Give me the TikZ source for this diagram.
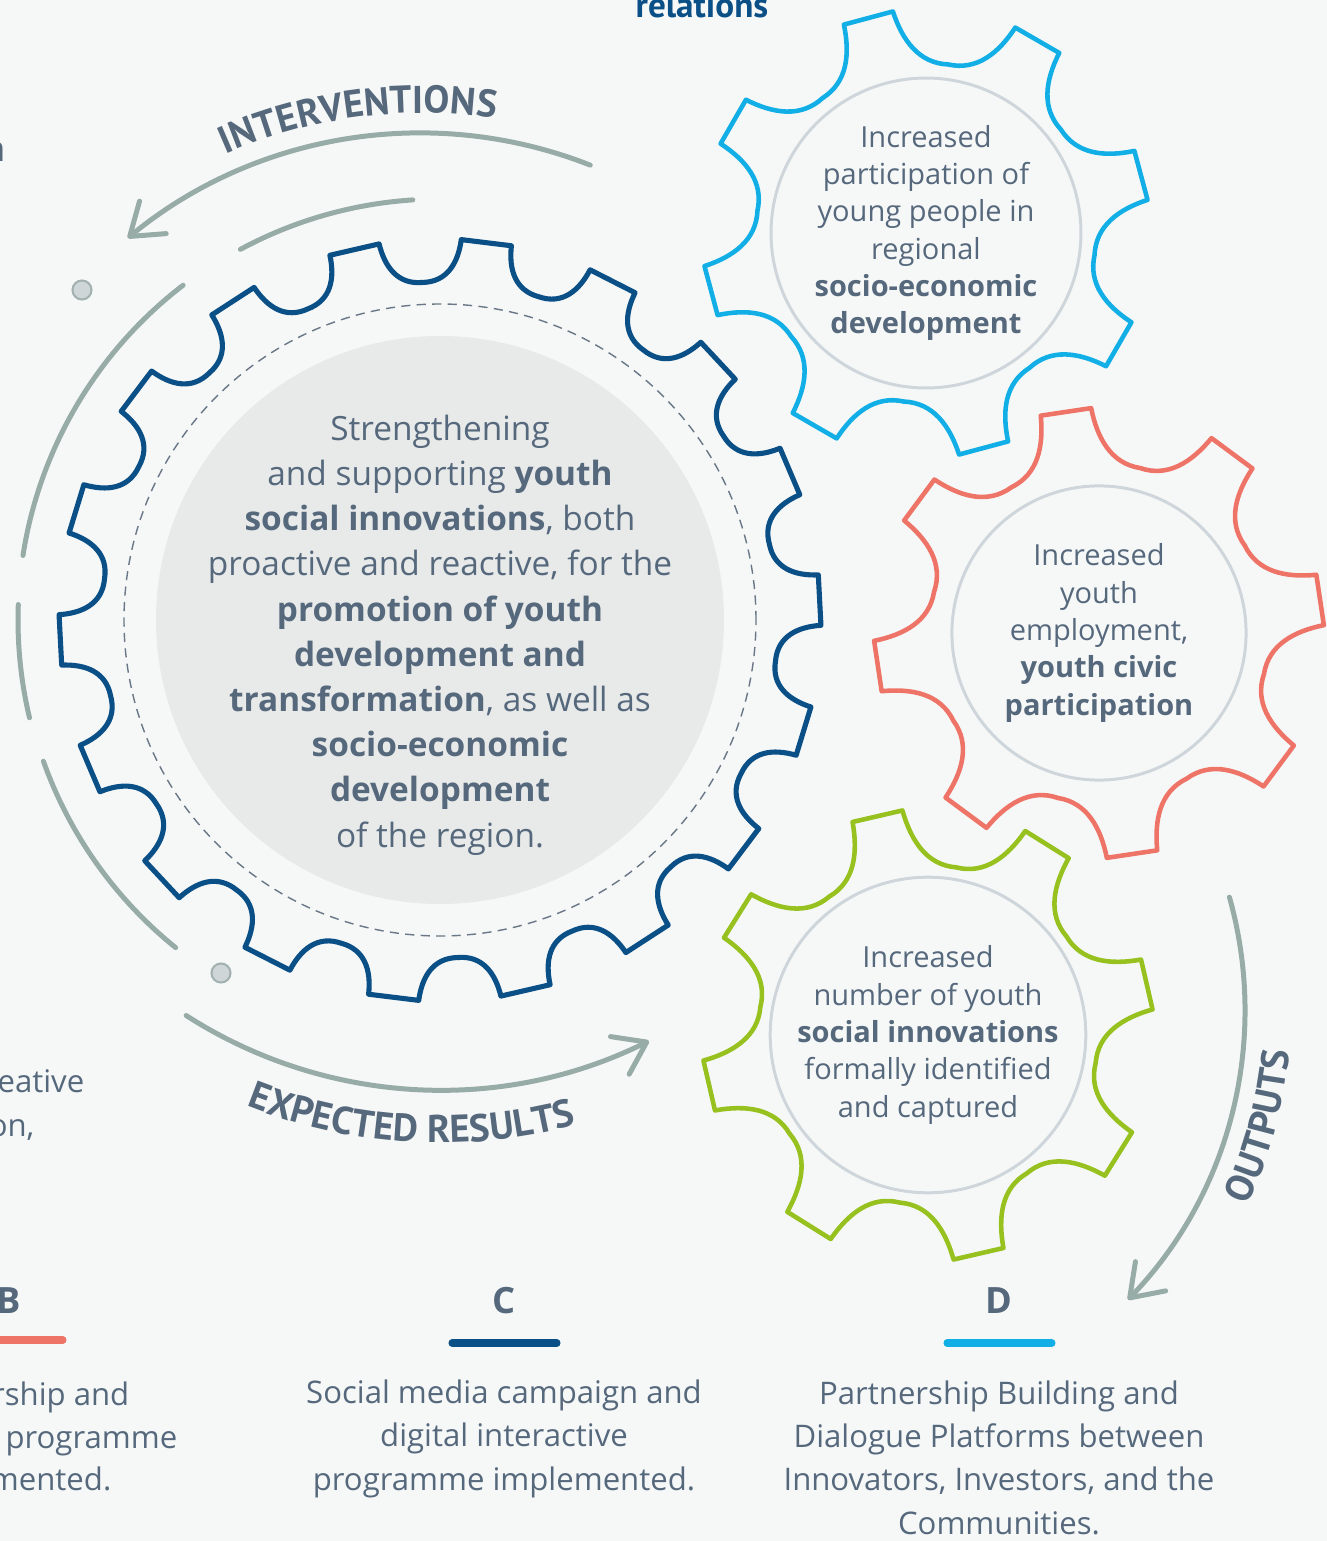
\documentclass[tikz,border=0pt]{standalone}
\usepackage{fontspec}
\setmainfont{Open Sans}
\newfontfamily\ptsans{PT Sans}
\usetikzlibrary{arrows.meta,decorations.text}
\definecolor{bgc}{HTML}{F6F8F8}
\definecolor{txt}{HTML}{56687C}
\definecolor{navy}{HTML}{0B4F87}
\definecolor{cyanc}{HTML}{12AEE6}
\definecolor{salmon}{HTML}{EF7468}
\definecolor{greenc}{HTML}{97C11F}
\definecolor{sage}{HTML}{97ABA7}
\definecolor{disc}{HTML}{E8EAEA}
\definecolor{ring}{HTML}{CFD6DB}
\definecolor{dotc}{HTML}{CFD6D8}
\definecolor{dotline}{HTML}{A3B2B0}
\definecolor{dashc}{HTML}{6A7786}
\newcommand\ctrfont{\fontsize{9.5pt}{12.86pt}\selectfont}
\newcommand\gearfont{\fontsize{8.25pt}{10.6pt}\selectfont}
\newcommand\btfont{\fontsize{8.85pt}{12.25pt}\selectfont}
\newcommand\letfont{\bfseries\fontsize{10.3pt}{12pt}\selectfont}
\newcommand\arclabelfont{\ptsans\bfseries\fontsize{11pt}{13pt}\selectfont\color{txt}}
% #1 style, #2 centre, #3 teeth, #4 offset, #5 tip radius, #6 root radius, #7 tip half angle, #8 #9 flank shape
\newcommand\gear[9]{%
  \pgfmathsetmacro\gearstep{360/#3}%
  \pgfmathsetmacro\gearmid{#5-0.55*(#5-#6)}%
  \draw[#1,shift={(#2)}] ({#4-#7}:#5)
    \foreach \k [evaluate=\k as \ga using #4+(\k-1)*\gearstep] in {1,...,#3}{
      -- ({\ga+#7}:#5)
      .. controls ({\ga+#7+#8}:\gearmid) and ({\ga+#7+#9}:#6)
      .. ({\ga+\gearstep/2}:#6)
      .. controls ({\ga+\gearstep-#7-#9}:#6) and ({\ga+\gearstep-#7-#8}:\gearmid)
      .. ({\ga+\gearstep-#7}:#5)
    } -- cycle;
}
\begin{document}
\begin{tikzpicture}[x=0.01cm,y=0.01cm,
  sagearc/.style={draw=sage,line width=1.42pt,line cap=round},
  barb/.style={-{Straight Barb[length=0.3cm,width=0.42cm,round]}},
  ringnode/.style={circle,draw=ring,fill=bgc,line width=0.85pt,minimum size=2.94cm,inner sep=0pt,align=center,font=\gearfont,text=txt},
  dotnode/.style={circle,fill=dotc,draw=dotline,line width=0.6pt,minimum size=0.19cm,inner sep=0pt},
  bodytext/.style={align=center,font=\btfont,text=txt,inner sep=0pt},
  fragtext/.style={anchor=base east,font=\btfont,text=txt,inner sep=0pt},
  letter/.style={anchor=base,font=\letfont,text=txt,inner sep=0pt},
  bar/.style={line width=2pt,line cap=round}]
\useasboundingbox (0,0) rectangle (1327,1541);
\fill[bgc] (0,0) rectangle (1327,1541);
\coordinate (C0) at (440,921);
\coordinate (CI) at (421,946);
\coordinate (CO) at (828,531);
\coordinate (G1) at (926,1308);
\coordinate (G2) at (1099,908);
\coordinate (G3) at (928,506);

% central gear
\fill[disc] (C0) circle[radius=284];
\draw[dashc,line width=0.4pt,dash pattern=on 2.6pt off 1.8pt] (C0) circle[radius=316];
\gear{navy,line width=1.45pt,line join=round}{C0}{18}{3}{381}{338}{3.8}{0.3}{2}

% small gears
\gear{cyanc,line width=1.3pt,line join=round}{G1}{8}{15}{224}{170}{6.5}{1.5}{6}
\gear{salmon,line width=1.3pt,line join=round}{G2}{8}{8.5}{225}{170}{6.5}{1.5}{6}
\gear{greenc,line width=1.3pt,line join=round}{G3}{8}{13}{226}{170}{6.5}{1.5}{6}

% sage arcs around the central gear
\draw[sagearc,barb] ([shift={(68.5:462)}]CI) arc[start angle=68.5,end angle=129.4,radius=462];
\draw[sagearc] ([shift={(93.7:421)}]C0) arc[start angle=93.7,end angle=118.3,radius=421];
\draw[sagearc] ([shift={(127.5:422)}]C0) arc[start angle=127.5,end angle=171.2,radius=422];
\draw[sagearc] ([shift={(177.9:422)}]C0) arc[start angle=177.9,end angle=193.4,radius=422];
\draw[sagearc] ([shift={(199.6:421)}]C0) arc[start angle=199.6,end angle=231.1,radius=421];
\draw[sagearc,barb] ([shift={(237.3:470)}]C0) arc[start angle=237.3,end angle=296.4,radius=470];
\draw[sagearc,barb] ([shift={(15.7:417)}]CO) arc[start angle=15.7,end angle=-44,radius=417];

\node[dotnode] (dot1) at (82,1251) {};
\node[dotnode] (dot2) at (221,568) {};

% curved labels
\path[decorate,decoration={text along path,text={|\arclabelfont|INTERVENTIONS},text align=center}]
  ([shift={(127.5:482)}]CI) arc[start angle=127.5,end angle=67.5,radius=482];
\path[decorate,decoration={text along path,text={|\arclabelfont|EXPECTED RESULTS},text align=center}]
  ([shift={(236.5:523)}]C0) arc[start angle=236.5,end angle=296.9,radius=523];
\path[decorate,decoration={text along path,text={|\arclabelfont|OUTPUTS},text align=center}]
  ([shift={(-35:463)}]CO) arc[start angle=-35,end angle=5,radius=463];

% central text
\node[align=center,font=\ctrfont,text=txt,inner sep=0pt] (core) at (440,906) {Strengthening\\
and supporting \textbf{youth}\\
\textbf{social innovations}, both\\
proactive and reactive, for the\\
\textbf{promotion of youth}\\
\textbf{development and}\\
\textbf{transformation}, as well as\\
\textbf{socio-economic}\\
\textbf{development}\\
of the region.};

% gear texts
\node[ringnode] (g1text) at (G1) {Increased\\participation of\\young people in\\regional\\\textbf{socio-economic}\\\textbf{development}};
\node[ringnode] (g2text) at (G2) {Increased\\youth\\employment,\\\textbf{youth civic}\\\textbf{participation}};
\node[ringnode] (g3text) at (G3) {Increased\\number of youth\\\textbf{social innovations}\\formally identified\\and captured};

% top fragment
\node[anchor=base,font=\ptsans\bfseries\fontsize{10pt}{12pt}\selectfont,text=navy,inner sep=0pt] (rel) at (702,1523) {relations};
\node[anchor=base east,font=\bfseries\fontsize{10pt}{12pt}\selectfont,text=txt,inner sep=0pt] (fragn) at (6,1379) {n};

% left fragments
\node[fragtext] (fragA) at (85,448) {eative};
\node[fragtext] (fragB) at (35,404) {on,};
\node[fragtext] (fragC) at (130,136) {rship and};
\node[fragtext] (fragD) at (178,93) {programme};
\node[fragtext] (fragE) at (112,51) {mented.};

% bottom columns
\node[letter] (labB) at (9,228) {B};
\node[letter] (labC) at (504,228) {C};
\node[letter] (labD) at (999,228) {D};
\draw[bar,salmon] (-42,201) -- (63,201);
\draw[bar,navy] (452,198) -- (557,198);
\draw[bar,cyanc] (947,198) -- (1052,198);
\node[bodytext,anchor=base] (textC) at (504,51) {Social media campaign and\\digital interactive\\programme implemented.};
\node[bodytext,anchor=base] (textD) at (999,7) {Partnership Building and\\Dialogue Platforms between\\Innovators, Investors, and the\\Communities.};
\end{tikzpicture}
\end{document}
